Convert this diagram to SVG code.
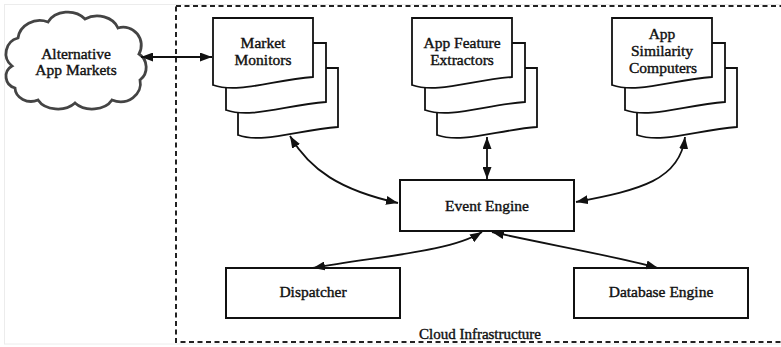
<svg xmlns="http://www.w3.org/2000/svg" width="781" height="347" viewBox="0 0 781 347">
  <defs>
    <style>
      .lbl { font-family: "Liberation Serif", "Times New Roman", serif; font-size: 15.5px; fill: #111; stroke: #111; stroke-width: 0.4; text-anchor: middle; }
      .box { fill: #fff; stroke: #111; stroke-width: 2; }
      .page { fill: #fff; stroke: #111; stroke-width: 1.8; stroke-linejoin: miter; }
      .link { fill: none; stroke: #111; stroke-width: 1.8; marker-start: url(#head); marker-end: url(#head); }
    </style>
    <marker id="head" viewBox="0 0 12 9" refX="12" refY="4.5" markerWidth="12" markerHeight="9" markerUnits="userSpaceOnUse" orient="auto-start-reverse">
      <path d="M0,0 L12,4.5 L0,9 Z" fill="#111"/>
    </marker>
    <!-- one sheet of a document stack: flat top, wavy bottom -->
    <path id="sheet" d="M0,0 H100 V59 C60,62 25,76 0,67 Z"/>
  </defs>

  <rect x="4.5" y="4.5" width="800" height="339.5" fill="#fff" stroke="#ececec" stroke-width="1"/>

  <!-- cloud infrastructure boundary -->
  <g id="cloud-infrastructure">
    <rect x="176" y="6" width="640" height="336" fill="none" stroke="#222" stroke-width="2" stroke-dasharray="5 3.5"/>
    <text class="lbl" x="480" y="339" style="font-size:15px">Cloud Infrastructure</text>
  </g>

  <g id="alt-markets">
    <path d="M12,66 A16,16 0 0 1 18,38 A22,20 0 0 1 48,22 A22,18 0 0 1 85,19 A22,18 0 0 1 118,28 A18,18 0 0 1 139,54 A16,16 0 0 1 140,80 A20,18 0 0 1 112,100 A22,16 0 0 1 75,103 A22,16 0 0 1 38,100 A16,14 0 0 1 15,88 A12,12 0 0 1 12,66 Z" fill="#fff" stroke="#444" stroke-width="2.8"/>
    <text class="lbl" x="76" y="59">Alternative</text>
    <text class="lbl" x="76" y="75">App Markets</text>
  </g>

  <g id="market-monitors">
    <use href="#sheet" x="238" y="68" class="page"/>
    <use href="#sheet" x="226" y="43" class="page"/>
    <use href="#sheet" x="213" y="18" class="page"/>
    <text class="lbl" x="263" y="48">Market</text>
    <text class="lbl" x="263" y="65">Monitors</text>
  </g>

  <g id="feature-extractors">
    <use href="#sheet" x="437" y="68" class="page"/>
    <use href="#sheet" x="425" y="43" class="page"/>
    <use href="#sheet" x="412" y="18" class="page"/>
    <text class="lbl" x="462" y="48">App Feature</text>
    <text class="lbl" x="462" y="65">Extractors</text>
  </g>

  <g id="similarity-computers">
    <use href="#sheet" x="637" y="68" class="page"/>
    <use href="#sheet" x="625" y="43" class="page"/>
    <use href="#sheet" x="612" y="18" class="page"/>
    <text class="lbl" x="662" y="39">App</text>
    <text class="lbl" x="662" y="56">Similarity</text>
    <text class="lbl" x="663" y="73">Computers</text>
  </g>

  <g id="event-engine">
    <rect class="box" x="400" y="180" width="174" height="51"/>
    <text class="lbl" x="487" y="211">Event Engine</text>
  </g>

  <g id="dispatcher">
    <rect class="box" x="226" y="268" width="174" height="50"/>
    <text class="lbl" x="313" y="297">Dispatcher</text>
  </g>

  <g id="database-engine">
    <rect class="box" x="574" y="268" width="174" height="50"/>
    <text class="lbl" x="661" y="297">Database Engine</text>
  </g>

  <g id="connectors">
    <path class="link" d="M141,57 L212,57"/>
    <path class="link" d="M290,136 C310,170 340,190 398,203"/>
    <path class="link" d="M487,137 L487,179"/>
    <path class="link" d="M685,137 C680,180 640,190 576,202"/>
    <path class="link" d="M482,232 C450,252 380,256 313,268"/>
    <path class="link" d="M492,232 C550,245 610,255 658,268"/>
  </g>
</svg>
